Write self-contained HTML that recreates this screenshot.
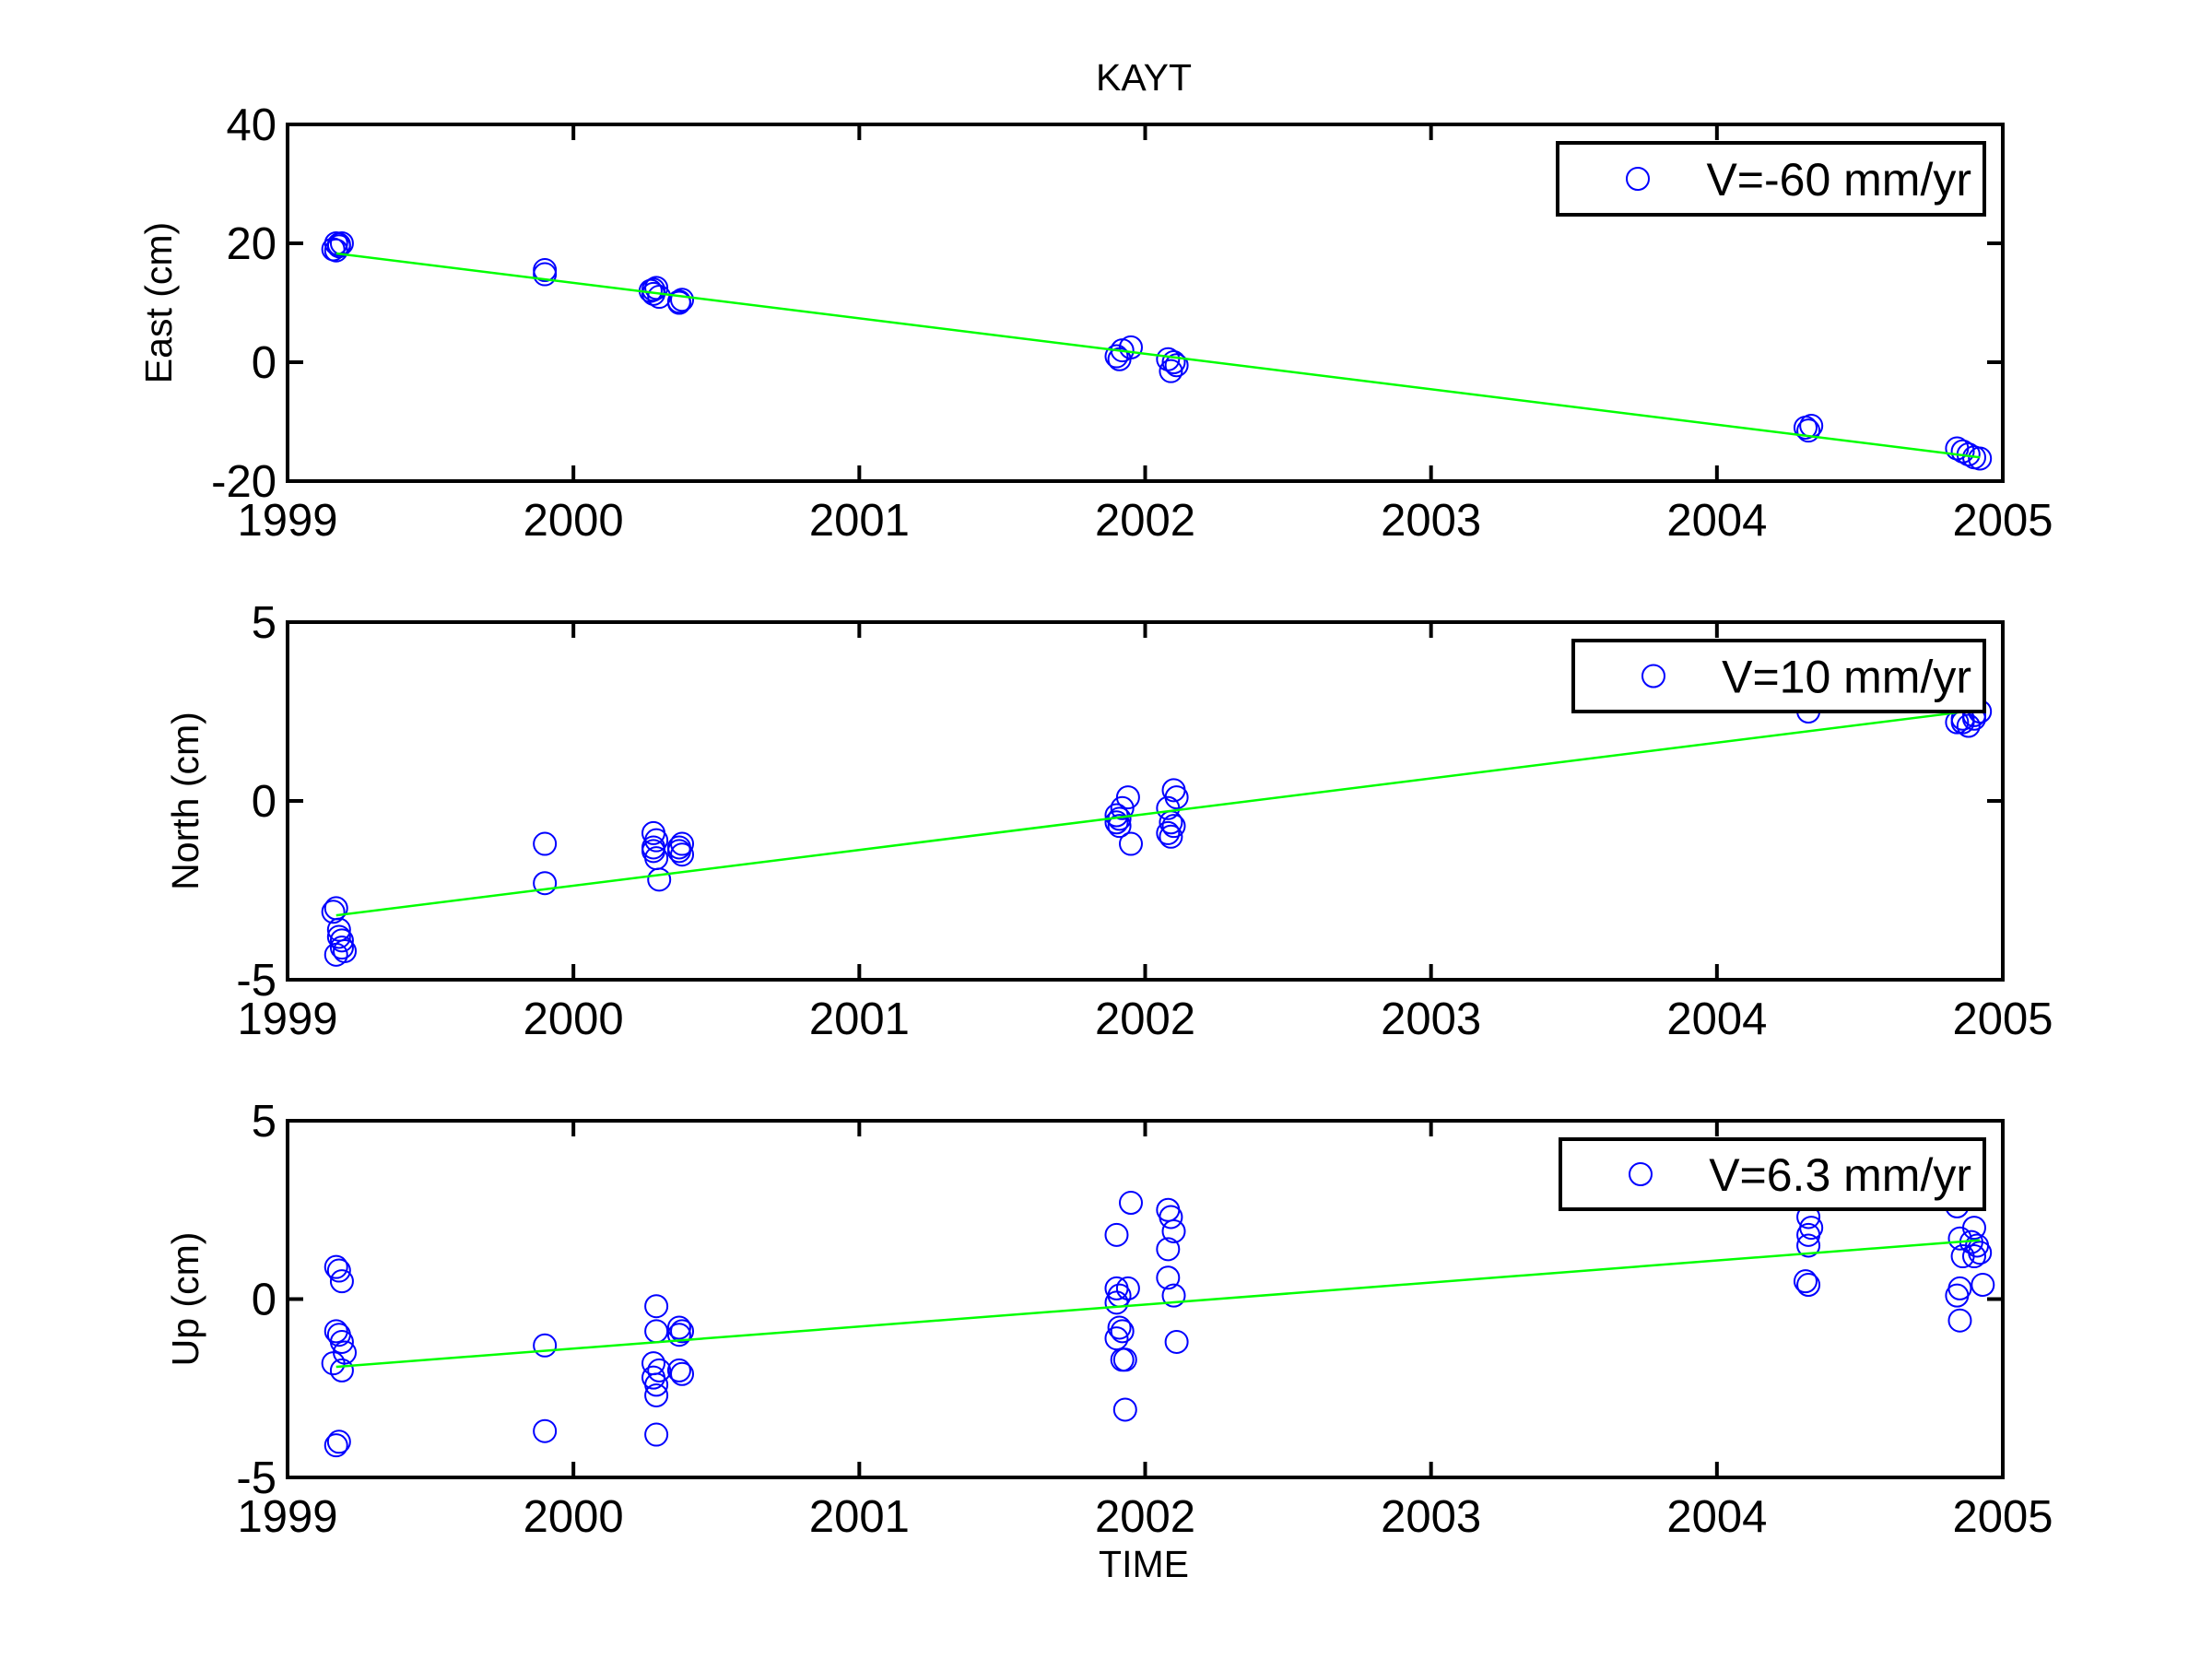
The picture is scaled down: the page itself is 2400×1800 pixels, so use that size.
<!DOCTYPE html>
<html><head><meta charset="utf-8"><style>
html,body{margin:0;padding:0;background:#fff;}
svg{display:block;font-family:"Liberation Sans",Arial,sans-serif;}
</style></head><body>
<svg id="fig" width="2400" height="1800" viewBox="0 0 2400 1800">
<rect width="2400" height="1800" fill="#fff"/>
<text x="1241" y="98" font-size="41" text-anchor="middle">KAYT</text>
<text x="1241" y="1711" font-size="41" text-anchor="middle">TIME</text>
</svg>
<script>
const xTicks = [1999, 2000, 2001, 2002, 2003, 2004, 2005];
const panelNames = ["East (cm)", "North (cm)", "Up (cm)"];
const yTicksEast = [-20, 0, 20, 40];
const yTicksNorth = [-5, 0, 5];
const yTicksUp = [-5, 0, 5];
const legendLabels = ["V=-60 mm/yr", "V=10 mm/yr", "V=6.3 mm/yr"];

const eastT = [1999.16,1999.17,1999.18,1999.19,1999.17,1999.18,1999.9,1999.9,2000.27,2000.28,2000.29,2000.3,2000.28,2000.37,2000.38,2000.37,2001.9,2001.91,2001.92,2001.95,2002.08,2002.09,2002.1,2002.11,2004.31,2004.32,2004.33,2004.84,2004.86,2004.88,2004.9,2004.92];
const eastV = [19,20,19.5,20,18.8,19.8,15.5,14.8,12,11.5,12.5,11,12.2,10,10.5,10.2,1,0.5,2,2.5,0.5,-1.5,0,-0.5,-11,-11.5,-10.7,-14.5,-15,-15.5,-16,-16.2];
const eastFit = [18.3, -16];

const northT = [1999.16,1999.17,1999.18,1999.19,1999.17,1999.18,1999.19,1999.2,1999.9,1999.9,2000.28,2000.29,2000.28,2000.29,2000.3,2000.28,2000.37,2000.38,2000.37,2000.38,2001.9,2001.91,2001.9,2001.92,2001.94,2001.91,2001.95,2002.08,2002.09,2002.08,2002.09,2002.1,2002.11,2002.1,2004.32,2004.84,2004.86,2004.88,2004.9,2004.92,2004.86,2004.9];
const northV = [-3.1,-3,-3.8,-4.1,-4.3,-3.6,-3.9,-4.2,-1.2,-2.3,-0.9,-1.1,-1.4,-1.6,-2.2,-1.3,-1.3,-1.5,-1.4,-1.2,-0.4,-0.5,-0.6,-0.2,0.1,-0.7,-1.2,-0.2,-0.6,-0.9,-1.0,0.3,0.1,-0.7,2.5,2.2,2.3,2.1,2.4,2.5,2.2,2.3];
const northFit = [-3.2, 2.55];

const upT = [1999.17,1999.18,1999.19,1999.17,1999.18,1999.19,1999.2,1999.16,1999.19,1999.17,1999.18,1999.9,1999.9,2000.29,2000.29,2000.28,2000.3,2000.28,2000.29,2000.29,2000.29,2000.37,2000.38,2000.37,2000.38,2000.37,2001.9,2001.9,2001.91,2001.9,2001.91,2001.9,2001.92,2001.93,2001.95,2001.94,2001.92,2001.93,2002.08,2002.09,2002.08,2002.08,2002.1,2002.1,2002.11,2004.32,2004.33,2004.32,2004.32,2004.31,2004.32,2004.84,2004.85,2004.86,2004.85,2004.84,2004.85,2004.9,2004.91,2004.92,2004.89,2004.93,2004.9];
const upV = [0.9,0.8,0.5,-0.9,-1.0,-1.2,-1.5,-1.8,-2.0,-4.1,-4.0,-1.3,-3.7,-0.2,-0.9,-1.8,-2.0,-2.2,-2.4,-2.7,-3.8,-0.8,-0.9,-1.0,-2.1,-2.0,1.8,0.3,0.1,-0.1,-0.8,-1.1,-1.7,-3.1,2.7,0.3,-0.9,-1.7,2.5,2.3,1.4,0.6,1.9,0.1,-1.2,2.3,2.0,1.8,1.5,0.5,0.4,2.6,1.7,1.2,0.3,0.1,-0.6,2.0,1.5,1.3,1.6,0.4,1.2];
const upFit = [-1.9, 1.65];

const fitT = [1999.17, 2004.92];

const NS = "http://www.w3.org/2000/svg";
const svg = document.getElementById("fig");
const X0 = 312, X1 = 2173;
const xMin = 1999, xMax = 2005;
function xs(t){ return X0 + (t - xMin) / (xMax - xMin) * (X1 - X0); }
function mk(tag, attrs, parent){ const e = document.createElementNS(NS, tag); for (const k in attrs) e.setAttribute(k, attrs[k]); (parent||svg).appendChild(e); return e; }

const panels = [
  {top:135, bot:522, yMin:-20, yMax:40, ticks:yTicksEast, t:eastT, v:eastV, fit:eastFit, labX:186, leg:[1690,155,2153,233], key:"east"},
  {top:675, bot:1063, yMin:-5, yMax:5, ticks:yTicksNorth, t:northT, v:northV, fit:northFit, labX:215, leg:[1707,695,2153,772], key:"north"},
  {top:1216, bot:1603, yMin:-5, yMax:5, ticks:yTicksUp, t:upT, v:upV, fit:upFit, labX:215, leg:[1693,1236,2153,1312], key:"up"}
];

panels.forEach((p, i) => {
  const g = mk("g", {});
  
  
  const ys = v => p.bot - (v - p.yMin) / (p.yMax - p.yMin) * (p.bot - p.top);
  for (let j = 0; j < p.t.length; j++) {
    const c = mk("circle", {cx: xs(p.t[j]), cy: ys(p.v[j]), r: 12, fill: "none", stroke: "#0000ff", "stroke-width": 2}, g);
    
    
  }
  const l = mk("line", {x1: xs(fitT[0]), y1: ys(p.fit[0]), x2: xs(fitT[1]), y2: ys(p.fit[1]), stroke: "#00ff00", "stroke-width": 2.5}, g);
  
  
  const box = mk("rect", {x: X0, y: p.top, width: X1 - X0, height: p.bot - p.top, fill: "none", stroke: "#000", "stroke-width": 4}, g);
  
  
  xTicks.forEach(t => {
    const x = xs(t);
    mk("line", {x1: x, y1: p.bot, x2: x, y2: p.bot - 17, stroke: "#000", "stroke-width": 4}, g);
    mk("line", {x1: x, y1: p.top, x2: x, y2: p.top + 17, stroke: "#000", "stroke-width": 4}, g);
    const tx = mk("text", {x: x, y: p.bot + 59, "font-size": 49, "text-anchor": "middle"}, g);
    tx.textContent = t;
    
    
  });
  p.ticks.forEach(v => {
    const y = ys(v);
    mk("line", {x1: X0, y1: y, x2: X0 + 17, y2: y, stroke: "#000", "stroke-width": 4}, g);
    mk("line", {x1: X1, y1: y, x2: X1 - 17, y2: y, stroke: "#000", "stroke-width": 4}, g);
    const ty = mk("text", {x: 300, y: y + 17, "font-size": 49, "text-anchor": "end"}, g);
    ty.textContent = v;
    
    
  });
  const cy = (p.top + p.bot) / 2;
  const yl = mk("text", {x: p.labX, y: cy, "font-size": 41, "text-anchor": "middle", transform: `rotate(-90 ${p.labX} ${cy})`}, g);
  yl.textContent = panelNames[i];
  
  
  const [lx0, ly0, lx1, ly1] = p.leg;
  const lg = mk("g", {}, g);
  
  
  mk("rect", {x: lx0, y: ly0, width: lx1 - lx0, height: ly1 - ly0, fill: "#fff", stroke: "#000", "stroke-width": 4}, lg);
  const my = (ly0 + ly1) / 2;
  mk("circle", {cx: i === 1 ? lx0 + 87 : lx0 + 87, cy: my, r: 12, fill: "none", stroke: "#0000ff", "stroke-width": 2}, lg);
  const lt = mk("text", {x: lx1 - 14, y: my + 18, "font-size": 50, "text-anchor": "end"}, lg);
  lt.textContent = legendLabels[i];
  
  
});
</script>
</body></html>
